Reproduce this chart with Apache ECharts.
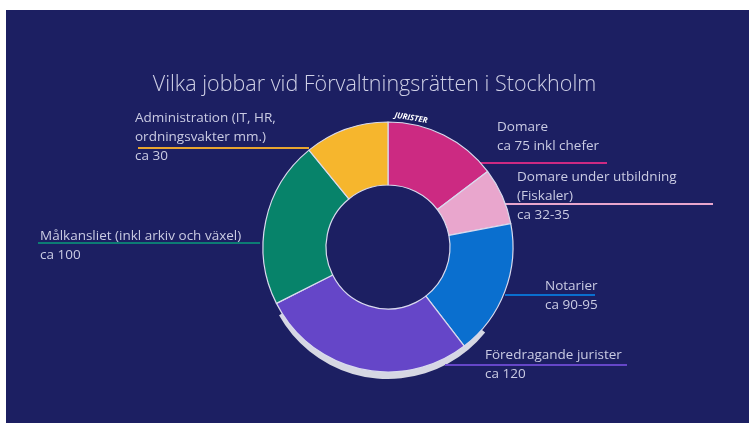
<!DOCTYPE html>
<html>
<head>
<meta charset="utf-8">
<script src="https://cdn.jsdelivr.net/npm/echarts@6/dist/echarts.min.js"></script>
<style>
  html, body { margin: 0; padding: 0; background: #ffffff; }
  #main { width: 749px; height: 423px; }
</style>
</head>
<body>
<div id="main"></div>
<script>
// kategorier (medurs från kl 12)
var categories = ['Domare', 'Domare under utbildning', 'Notarier', 'Föredragande jurister', 'Målkansliet', 'Administration'];
// värden avlästa från sektorernas vinklar
var values = [66, 33, 79, 126, 97, 49];
// etiketttexter
var labelTexts = [
  'Domare\nca 75 inkl chefer',
  'Domare under utbildning\n(Fiskaler)\nca 32-35',
  'Notarier\nca 90-95',
  'Föredragande jurister\nca 120',
  'Målkansliet (inkl arkiv och växel)\nca 100',
  'Administration (IT, HR,\nordningsvakter mm.)\nca 30'
];
var colors = ['#cc2a82', '#e9a6cd', '#0a6fcf', '#6546c8', '#07836a', '#f6b62d'];
var lineColors = ['#cc2a82', '#e9a6cd', '#0a6fcf', '#6546c8', '#0d7c74', '#e9a52f'];

// etikettplacering: textens x, första radens mitt y, linje x1, x2, y
var labelPos = [
  { x: 497, y: 127, x1: 478, x2: 607, ly: 163 },
  { x: 517, y: 177, x1: 505, x2: 713, ly: 204 },
  { x: 545, y: 286, x1: 505, x2: 595, ly: 295 },
  { x: 485, y: 355, x1: 445, x2: 627, ly: 365 },
  { x: 40, y: 236, x1: 38, x2: 260, ly: 243 },
  { x: 135, y: 118, x1: 138, x2: 309, ly: 148 }
];

var cx = 388, cy = 247;
var myChart = echarts.init(document.getElementById('main'));

var data = categories.map(function (name, i) {
  return {
    name: name,
    value: values[i],
    itemStyle: { color: colors[i] },
    labelLine: { lineStyle: { color: lineColors[i], width: 2 } }
  };
});

var option = {
  backgroundColor: '#ffffff',
  animation: false,
  title: {
    text: 'Vilka jobbar vid Förvaltningsrätten i Stockholm',
    left: 'center',
    top: 69,
    textStyle: {
      fontFamily: 'Open Sans',
      fontSize: 21.5,
      fontWeight: 300,
      color: '#cfd0e6'
    }
  },
  graphic: [
    {
      type: 'rect',
      z: -10,
      shape: { x: 6, y: 10, width: 743, height: 413 },
      style: { fill: '#1c1f62' }
    },
    {
      type: 'sector',
      z: 0,
      shape: { cx: cx, cy: cy + 7, r: 125, r0: 110, startAngle: 0.68, endAngle: 2.63 },
      style: { fill: '#d6d7e3' }
    },
    {
      type: 'text',
      z: 100,
      x: 411,
      y: 118,
      rotation: -0.17,
      style: {
        text: 'JURISTER',
        fill: '#ffffff',
        font: 'italic bold 8px "Open Sans"',
        align: 'center',
        verticalAlign: 'middle'
      }
    }
  ],
  series: [
    {
      type: 'pie',
      z: 5,
      center: [cx, cy],
      radius: [62, 125],
      startAngle: 90,
      clockwise: true,
      avoidLabelOverlap: false,
      data: data,
      itemStyle: { borderColor: '#d9daee', borderWidth: 1.2 },
      emphasis: { disabled: true },
      label: {
        show: true,
        position: 'outside',
        formatter: function (p) { return labelTexts[p.dataIndex]; },
        fontFamily: 'Open Sans',
        fontSize: 13.5,
        lineHeight: 19,
        color: '#cacbe3'
      },
      labelLine: { show: true, length: 10, length2: 10, smooth: false },
      labelLayout: function (params) {
        var L = labelPos[params.dataIndex];
        return {
          x: L.x,
          y: L.y - 9.5,
          align: 'left',
          verticalAlign: 'top',
          labelLinePoints: [[L.x1, L.ly], [L.x2, L.ly], [L.x2, L.ly]]
        };
      }
    }
  ]
};

myChart.setOption(option);
</script>
</body>
</html>
